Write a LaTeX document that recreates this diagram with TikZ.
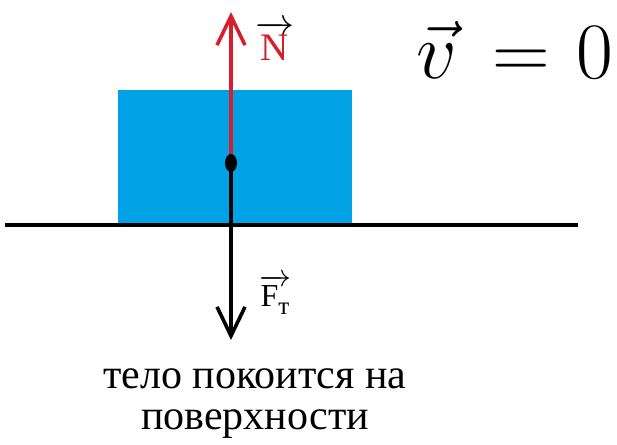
\RequirePackage{fix-cm}
\documentclass[tikz,border=0pt]{standalone}
\usepackage[no-math]{fontspec}
\setmainfont{Liberation Serif}
\usetikzlibrary{arrows.meta,shapes.geometric}
\definecolor{blockblue}{RGB}{0,162,230}
\definecolor{forcered}{RGB}{215,30,45}
\tikzset{
  force/.style={line width=3.6pt, -{Straight Barb[length=29pt,width=28pt,line width=3.6pt]}},
  lbl/.style={inner sep=0pt},
}
\begin{document}
\begin{tikzpicture}[x=1pt,y=-1pt]
\useasboundingbox (0,0) rectangle (617,444);
\node[fill=blockblue, draw=none, minimum width=234pt, minimum height=134pt, inner sep=0pt] (block) at (235,157) {};
\coordinate (gl) at (5,225);
\coordinate (gr) at (578,225);
\draw[line width=4pt] (gl) -- (gr);
\coordinate (c) at (231,163);
\coordinate (ntip) at (231,12);
\coordinate (ftip) at (231,340);
\draw[force, draw=forcered] (c) -- (ntip);
\draw[force, draw=black] (c) -- (ftip);
\node[ellipse, fill=black, minimum width=12pt, minimum height=18pt, inner sep=0pt] (dot) at (c) {};
\node[lbl, font=\fontsize{39}{40}\selectfont] (nlab) at (275,41) {$\overrightarrow{\hbox{\color{forcered}N}}$};
\node[lbl, font=\fontsize{32}{36}\selectfont] (flab) at (275,295) {$\overrightarrow{\hbox{F\raisebox{-8pt}{\fontsize{25}{26}\selectfont т}}}$};
\node[inner sep=0pt, anchor=base west, font=\fontsize{80}{96}\selectfont] (vel) at (416,78) {$\vec{v}\mkern3mu=\mkern1mu0$};
\node[inner sep=0pt, align=center, font=\fontsize{42}{41}\selectfont] (cap) at (255,404) {тело покоится на\\поверхности};
\end{tikzpicture}
\end{document}
